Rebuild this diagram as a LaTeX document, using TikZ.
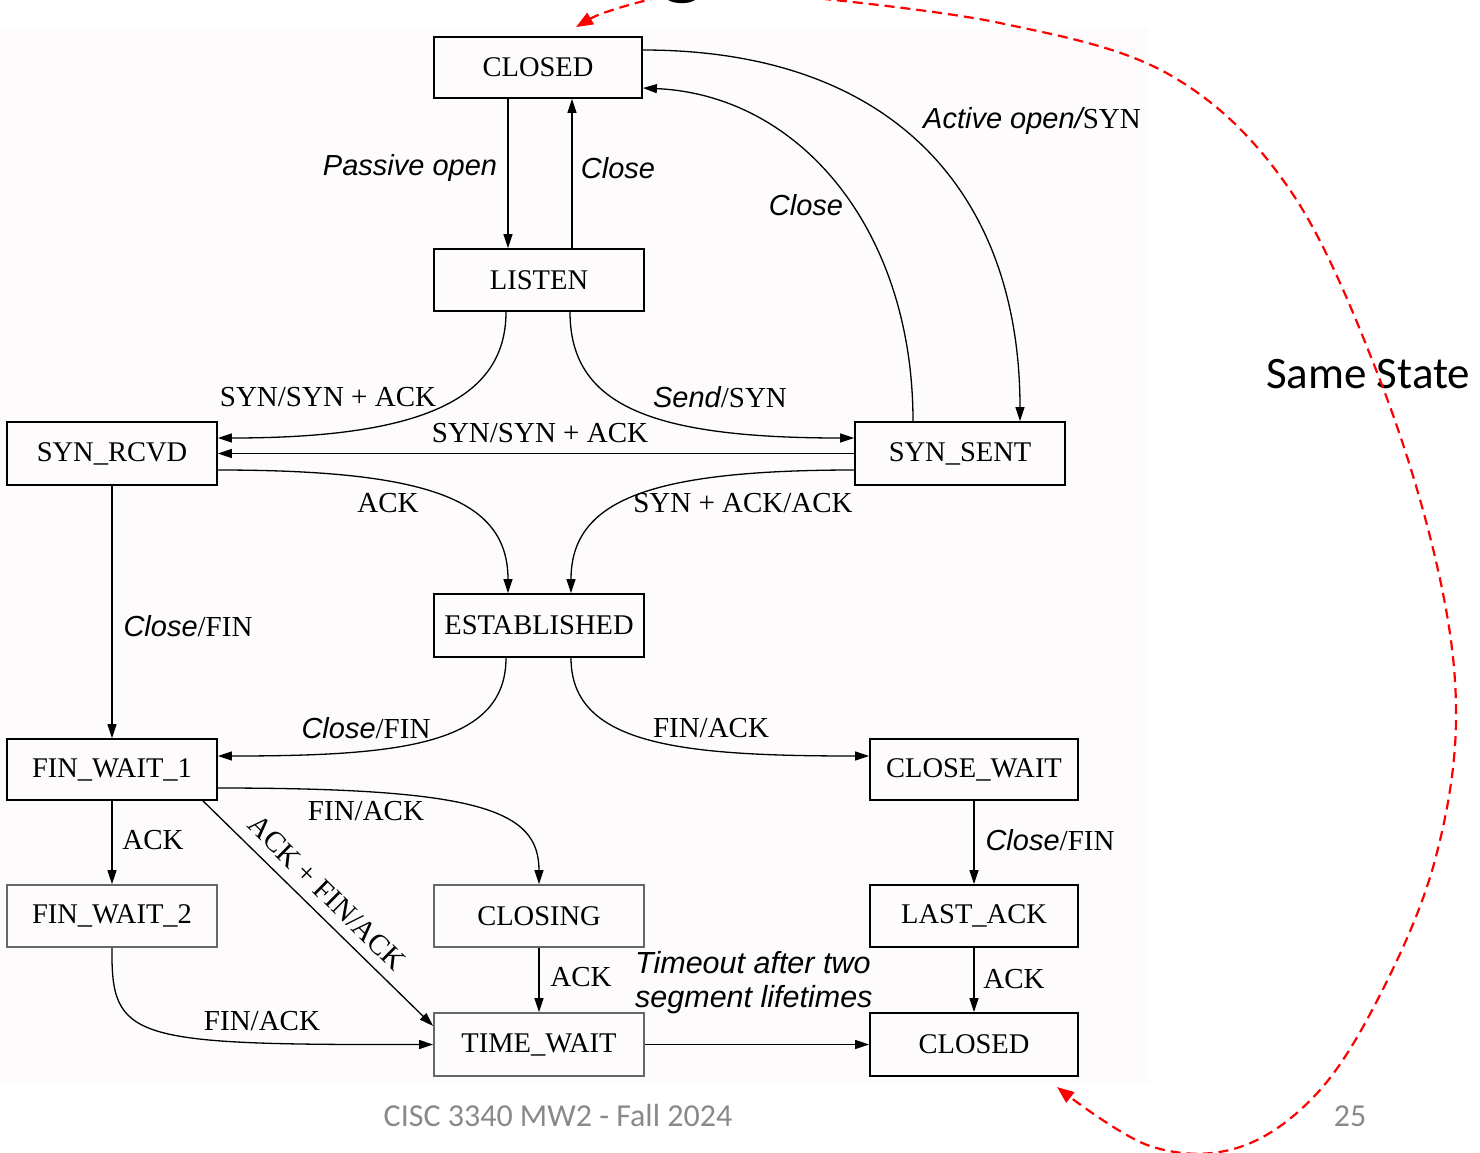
\documentclass[tikz,border=0pt]{standalone}
\usepackage{fontspec}
\setmainfont{Liberation Serif}
\newfontfamily\lbsans{Liberation Sans}
\newfontfamily\calib{Carlito}
\usetikzlibrary{arrows.meta}
\definecolor{bgpink}{RGB}{253,251,252}
\definecolor{footgray}{HTML}{898989}
\newcommand\ital[1]{{\lbsans\itshape #1}}
\begin{document}
\begin{tikzpicture}[x=1pt,y=-1pt,
  state/.style={draw=black, line width=1.8pt, minimum width=210pt, minimum height=62pt, inner sep=0pt,
    font=\fontsize{28.5}{30}\selectfont},
  stategrey/.style={state, draw=black!60},
  tr/.style={line width=1.3pt, -{Triangle[length=14pt,width=9pt]}},
  lab/.style={font=\fontsize{29}{33}\selectfont, inner sep=0pt},
  redar/.style={draw=red, line width=2.2pt, dash pattern=on 10pt off 6pt, -{Triangle[length=17pt,width=13pt]}},
  foot/.style={font=\calib\fontsize{32}{32}\selectfont, text=footgray, inner sep=0pt, anchor=base}]
\useasboundingbox (0,0) rectangle (1480,1152);
\clip (0,0) rectangle (1480,1152);
\fill[bgpink] (0,28) rectangle (1149,1083);

% partial title glyph
\node[anchor=base, inner sep=0pt, font=\calib\fontsize{100}{100}\selectfont] (title) at (683,-14) {g};

% states
\node[state, minimum width=208pt, minimum height=61pt] (closedA) at (538,67.5) {CLOSED};
\node[state] (listen) at (539,280) {LISTEN};
\node[state, minimum height=63pt] (synrcvd) at (112,453.5) {SYN\_RCVD};
\node[state, minimum height=63pt] (synsent) at (960,453.5) {SYN\_SENT};
\node[state, minimum height=63pt] (est) at (539,625.5) {ESTABLISHED};
\node[state, minimum height=61pt] (fw1) at (112,769.5) {FIN\_WAIT\_1};
\node[state, minimum width=208pt, minimum height=61pt] (cw) at (974,769.5) {CLOSE\_WAIT};
\node[stategrey] (fw2) at (112,916) {FIN\_WAIT\_2};
\node[stategrey] (closing) at (539,916) {CLOSING};
\node[state, minimum width=208pt] (lastack) at (974,916) {LAST\_ACK};
\node[stategrey, minimum height=63pt] (tw) at (539,1044.5) {TIME\_WAIT};
\node[state, minimum width=208pt, minimum height=63pt] (closedB) at (974,1044.5) {CLOSED};

% transitions
\draw[tr] ([xshift=-30pt]closedA.south) -- ([xshift=-31pt]listen.north);
\draw[tr] ([xshift=33pt]listen.north) -- ([xshift=34pt]closedA.south);
\draw[tr] ([yshift=17.5pt]closedA.east) .. controls (900,50) and (1020,200) .. ([xshift=60pt]synsent.north);
\draw[tr] ([xshift=-47pt]synsent.north) .. controls (913,230) and (800,95) .. ([yshift=-20.5pt]closedA.east);
\draw[tr] ([xshift=-33pt]listen.south) .. controls (506,400) and (420,438) .. ([yshift=15.5pt]synrcvd.east);
\draw[tr] ([xshift=31pt]listen.south) .. controls (570,405) and (650,438) .. ([yshift=15.5pt]synsent.west);
\draw[tr] (synsent.west) -- (synrcvd.east);
\draw[tr] ([yshift=-16.5pt]synrcvd.east) .. controls (430,470) and (508,500) .. ([xshift=-31pt]est.north);
\draw[tr] ([yshift=-16.5pt]synsent.west) .. controls (650,470) and (571,500) .. ([xshift=32pt]est.north);
\draw[tr] (synrcvd.south) -- (fw1.north);
\draw[tr] ([xshift=-33pt]est.south) .. controls (506,745) and (400,756) .. ([yshift=13.5pt]fw1.east);
\draw[tr] ([xshift=32pt]est.south) .. controls (571,745) and (680,756) .. ([yshift=13.5pt]cw.west);
\draw[tr] (fw1.south) -- (fw2.north);
\draw[tr] ([yshift=-18.5pt]fw1.east) .. controls (480,788) and (539,810) .. (closing.north);
\draw[tr] ([xshift=91pt]fw1.south) -- ([yshift=18.5pt]tw.west);
\draw[tr] (cw.south) -- (lastack.north);
\draw[tr] (fw2.south) .. controls (111,1040) and (130,1045) .. (tw.west);
\draw[tr] (closing.south) -- (tw.north);
\draw[tr] (lastack.south) -- (closedB.north);
\draw[tr] (tw.east) -- (closedB.west);

% labels
\node[lab] (l1) at (410,168) {\ital{Passive open}};
\node[lab] (l2) at (618,168) {\ital{Close}};
\node[lab] (l3) at (1032,121) {\ital{Active open/}SYN};
\node[lab] (l4) at (806,205) {\ital{Close}};
\node[lab] (l5) at (328,397) {SYN/SYN + ACK};
\node[lab] (l6) at (720,397) {\ital{Send}/SYN};
\node[lab] (l7) at (540,433) {SYN/SYN + ACK};
\node[lab] (l8) at (388,503) {ACK};
\node[lab] (l9) at (743,503) {SYN + ACK/ACK};
\node[lab] (l10) at (188,626) {\ital{Close}/FIN};
\node[lab] (l11) at (366,728) {\ital{Close}/FIN};
\node[lab] (l12) at (711,728) {FIN/ACK};
\node[lab] (l13) at (153,840) {ACK};
\node[lab] (l14) at (366,811) {FIN/ACK};
\node[lab, rotate=-44.5] (l15) at (327,893) {ACK + FIN/ACK};
\node[lab] (l16) at (1050,840) {\ital{Close}/FIN};
\node[lab] (l17) at (262,1021) {FIN/ACK};
\node[lab] (l18) at (581,977) {ACK};
\node[lab] (l19) at (1014,979) {ACK};
\node[lab, anchor=west, align=left, font=\lbsans\itshape\fontsize{30.5}{34}\selectfont] (l20) at (635,983) {Timeout after two\\segment lifetimes};

% annotation
\node[anchor=base west, inner sep=0pt, font=\calib\fontsize{45}{45}\selectfont] (same) at (1266,388) {Same State};
\coordinate (rA) at (660,-3);
\coordinate (rB) at (805,-3);
\draw[redar] (rA) .. controls (630,4) and (600,13) .. ([xshift=38pt,yshift=9pt]closedA.north);
\draw[redar] plot[smooth, tension=0.6] coordinates {(rB) (1000,23) (1170,75) (1290,190) (1380,380) (1438,570) (1456,720) (1435,860) (1385,985) (1320,1090) (1240,1147) (1150,1146) (1057,1087)};

% footer
\node[foot] (ftxt) at (558,1126) {CISC 3340 MW2 - Fall 2024};
\node[foot] (fnum) at (1350,1126) {25};
\end{tikzpicture}
\end{document}
